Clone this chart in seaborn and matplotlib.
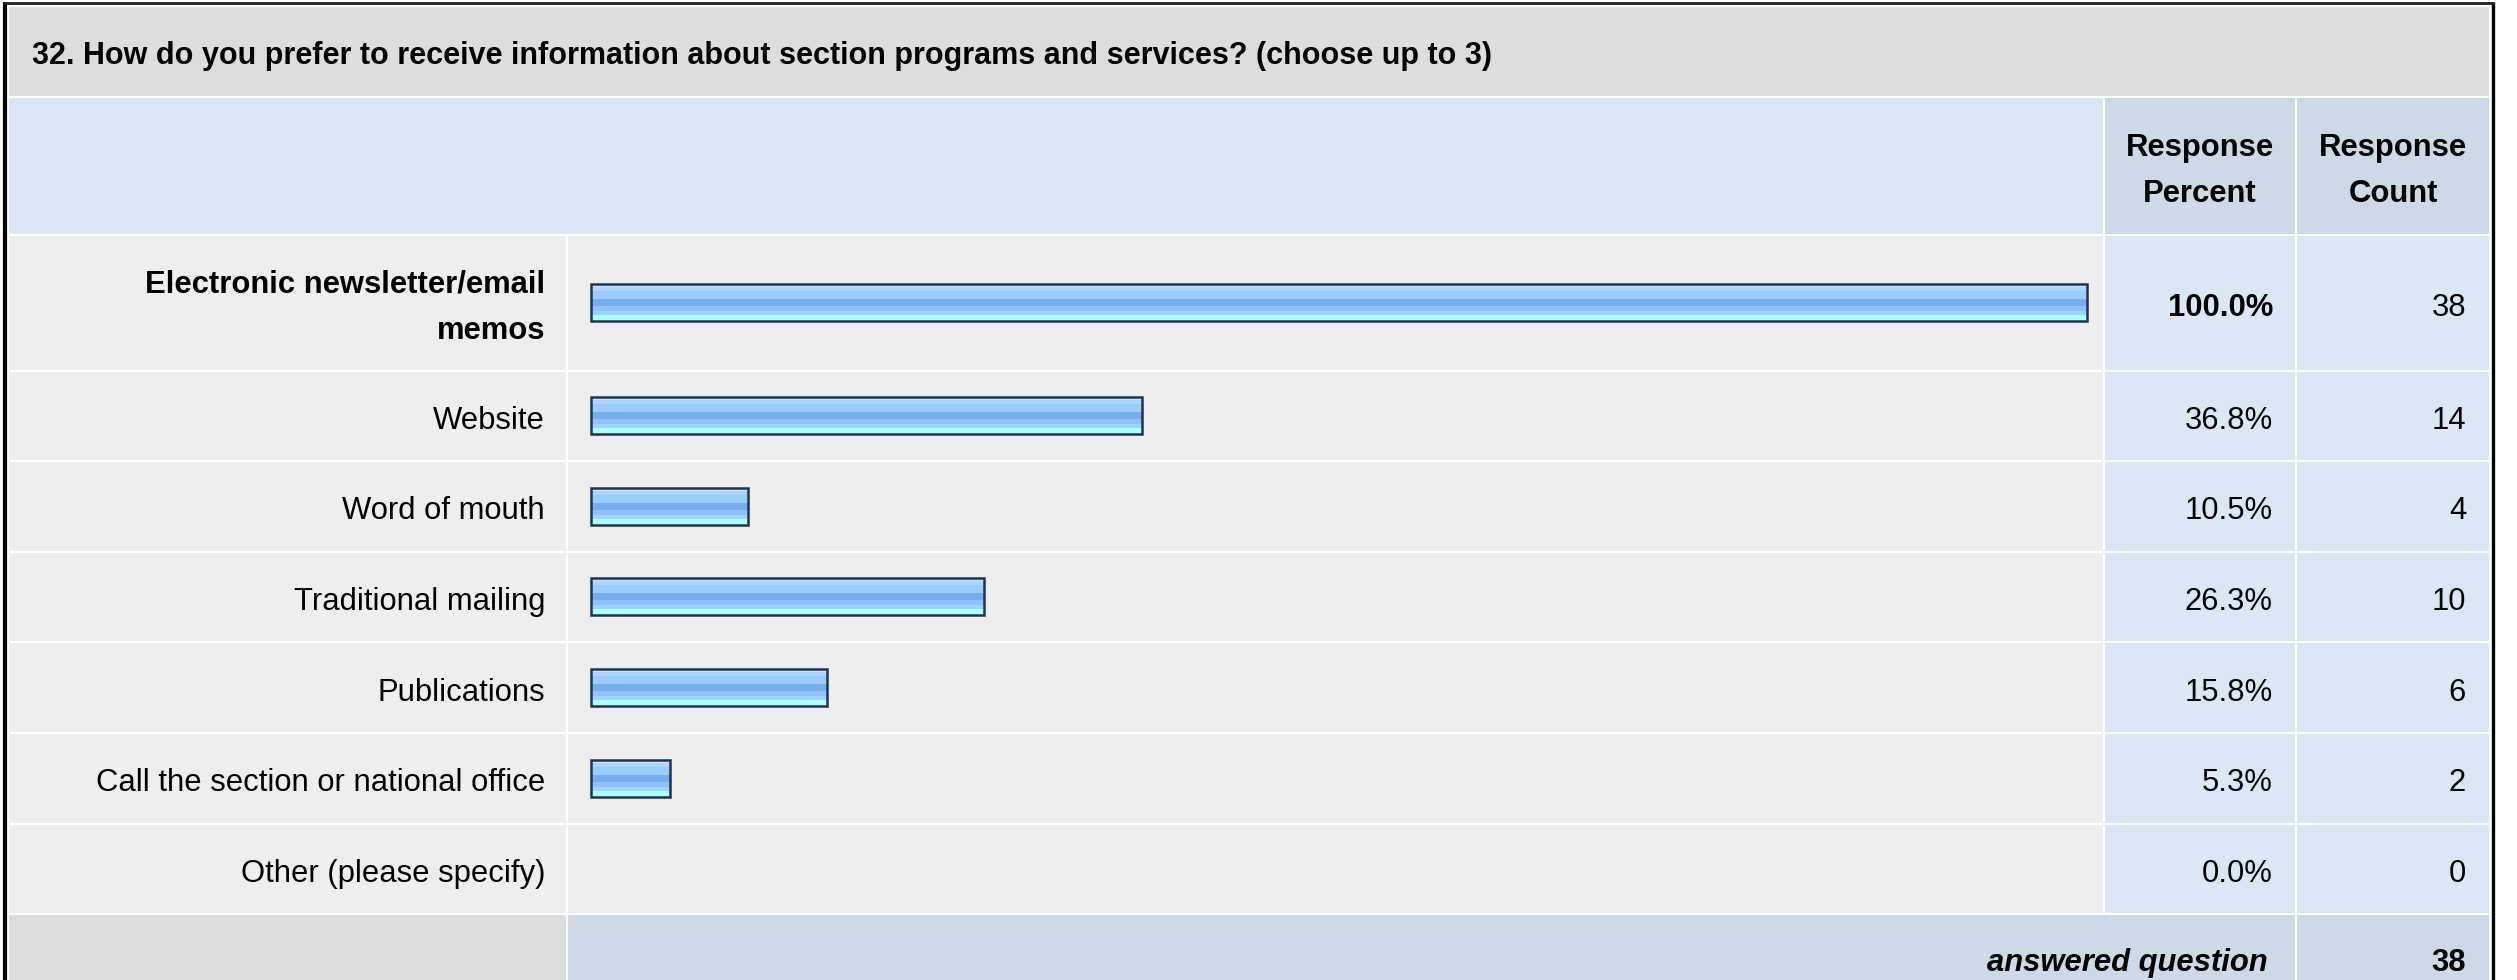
import numpy as np
import matplotlib
matplotlib.use("Agg")
import matplotlib.pyplot as plt
from matplotlib.patches import Rectangle
from matplotlib.colors import to_rgb
import seaborn as sns

# Survey question and answers
question = "32. How do you prefer to receive information about section programs and services? (choose up to 3)"
answer_options = [
    "Electronic newsletter/email\nmemos",
    "Website",
    "Word of mouth",
    "Traditional mailing",
    "Publications",
    "Call the section or national office",
    "Other (please specify)",
]
response_percent = [100.0, 36.8, 10.5, 26.3, 15.8, 5.3, 0.0]
response_count = [38, 14, 4, 10, 6, 2, 0]
answered_question = 38
header_percent = "Response\nPercent"
header_count = "Response\nCount"
footer_label = "answered question"

W, H = 2517, 980

sns.set_style("white")
plt.rcParams["font.family"] = ["Liberation Sans", "DejaVu Sans"]
plt.rcParams["text.color"] = "black"

# table layout in pixels
LBL = (9, 566)
BAR = (568, 2103)
PCT = (2105, 2295)
CNT = (2297, 2489)
title_y = (7, 96)
head_y = (98, 234)
row_gaps = [234.5, 370.5, 461, 551.5, 642, 733, 823.5, 914]
foot_y = (915, 990)
bar_x0, bar_x100 = 591, 2087
bar_px = 37
dy = 5  # nudge text down to sit like the html table

TITLE_BG = "#dddddd"
HEAD_BG = "#dce7f5"
HEAD_COL = "#cdd9e6"
ROW_BG = "#eeeeee"
VAL_BG = "#dce7f5"
EDGE = "#1f3452"
FS = 22.3
LS = 1.72

stripes = [("#c9e5ff", 3), ("#aad5ff", 3), ("#99ccff", 7), ("#78acef", 6),
           ("#8ec2fa", 4), ("#9fd3ff", 4), ("#aaffff", 5)]
grad = np.array([to_rgb(c) for c, n in stripes for _ in range(n)])[:, None, :]

fig = plt.figure(figsize=(W / 100, H / 100), dpi=100)
fig.patch.set_facecolor("white")
bg = fig.add_axes([0, 0, 1, 1])
bg.set_xlim(0, W)
bg.set_ylim(H, 0)
bg.axis("off")


def cell(xr, yr, color):
    bg.add_patch(Rectangle((xr[0], yr[0]), xr[1] - xr[0], yr[1] - yr[0],
                           facecolor=color, edgecolor="none"))


# title and header
cell((LBL[0], CNT[1]), title_y, TITLE_BG)
bg.text(32, 51 + dy, question, fontsize=22.0, fontweight="bold", va="center", ha="left")
cell((LBL[0], BAR[1]), head_y, HEAD_BG)
cell(PCT, head_y, HEAD_COL)
cell(CNT, head_y, HEAD_COL)
hy = (head_y[0] + head_y[1]) / 2 + dy
bg.text((PCT[0] + PCT[1]) / 2, hy, header_percent, fontsize=FS, fontweight="bold",
        ha="center", va="center", multialignment="center", linespacing=LS)
bg.text((CNT[0] + CNT[1]) / 2, hy, header_count, fontsize=FS, fontweight="bold",
        ha="center", va="center", multialignment="center", linespacing=LS)

px_per_pct = (bar_x100 - bar_x0) / 100

for i, (label, pct, cnt) in enumerate(zip(answer_options, response_percent, response_count)):
    y0, y1 = row_gaps[i] + 1, row_gaps[i + 1] - 1
    yc = (y0 + y1) / 2 + dy
    cell(LBL, (y0, y1), ROW_BG)
    cell(BAR, (y0, y1), ROW_BG)
    cell(PCT, (y0, y1), VAL_BG)
    cell(CNT, (y0, y1), VAL_BG)
    weight = "bold" if i == 0 else "normal"
    bg.text(545, yc, label, fontsize=FS, fontweight=weight, ha="right", va="center",
            multialignment="right", linespacing=LS)
    bg.text(2273, yc, f"{pct:.1f}%", fontsize=FS, fontweight=weight, ha="right", va="center")
    bg.text(2466, yc, str(cnt), fontsize=FS, ha="right", va="center")

    if pct <= 0:
        continue
    h = y1 - y0
    ax = fig.add_axes([BAR[0] / W, 1 - y1 / H, (BAR[1] - BAR[0]) / W, h / H])
    sns.barplot(x=[pct], y=[label], orient="h", width=bar_px / h, color="#99ccff",
                edgecolor=EDGE, linewidth=1.8, ax=ax)
    for p in ax.patches:
        x, y, w, bh = p.get_x(), p.get_y(), p.get_width(), p.get_height()
        im = ax.imshow(grad, extent=[x, x + w, y + bh, y], aspect="auto",
                       interpolation="nearest", zorder=1.5)
        im.set_clip_path(p)
        p.set_facecolor("none")
        p.set_zorder(3)
    ax.set_xlim(-(bar_x0 - BAR[0]) / px_per_pct, 100 + (BAR[1] - bar_x100) / px_per_pct)
    ax.set_ylim(0.5, -0.5)
    ax.axis("off")
    ax.patch.set_alpha(0)

# footer
cell(LBL, foot_y, TITLE_BG)
cell((BAR[0], PCT[1]), foot_y, HEAD_COL)
cell(CNT, foot_y, HEAD_COL)
fy = 958 + dy
bg.text(2268, fy, footer_label, fontsize=FS, fontweight="bold", fontstyle="italic",
        ha="right", va="center")
bg.text(2466, fy, str(answered_question), fontsize=FS, fontweight="bold", ha="right", va="center")

# outer frame
bg.plot([4.5, 4.5], [2, H], color="black", lw=3.0, solid_capstyle="butt")
bg.plot([2492.5, 2492.5], [2, H], color="black", lw=2.4, solid_capstyle="butt")
bg.plot([3, 2494], [3.5, 3.5], color="#222222", lw=2.0, solid_capstyle="butt")

fig.savefig("out.png", dpi=100)
